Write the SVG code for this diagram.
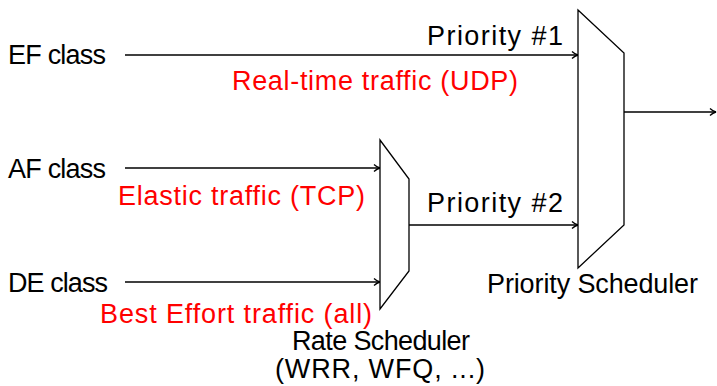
<svg xmlns="http://www.w3.org/2000/svg" width="717" height="386" viewBox="0 0 717 386">
<style>
text{font-family:"Liberation Sans",Arial,sans-serif;font-size:27px;fill:#000}
.red{fill:#ff0000}
.edge{stroke:#000;stroke-width:1.3;fill:none;marker-end:url(#ah)}
.mux{stroke:#000;stroke-width:1.3;fill:#fff}
</style>
<defs>
<marker id="ah" markerWidth="10" markerHeight="10" refX="8" refY="5" orient="auto" markerUnits="userSpaceOnUse">
<path d="M2,1.5 Q5,4.3 8,5 Q5,5.7 2,8.5" fill="none" stroke="#000" stroke-width="1.3"/>
</marker>
</defs>
<g id="connectors">
<line class="edge" x1="125" y1="55" x2="578" y2="55"/>
<line class="edge" x1="125" y1="168" x2="380" y2="168"/>
<line class="edge" x1="125" y1="282" x2="380" y2="282"/>
<line class="edge" x1="409" y1="225" x2="578" y2="225"/>
<line class="edge" x1="624" y1="112" x2="716" y2="112"/>
</g>
<g id="ef"><text x="8" y="64" textLength="98">EF class</text></g>
<g id="af"><text x="8" y="178" textLength="98">AF class</text></g>
<g id="de"><text x="8" y="292" textLength="100">DE class</text></g>
<g id="labels">
<text class="red" x="232" y="90" textLength="286">Real-time traffic (UDP)</text>
<text class="red" x="118" y="205" textLength="247">Elastic traffic (TCP)</text>
<text class="red" x="100" y="323" textLength="272">Best Effort traffic (all)</text>
<text x="427" y="45" textLength="136">Priority #1</text>
<text x="427" y="212" textLength="136">Priority #2</text>
</g>
<g id="rate-scheduler">
<polygon class="mux" points="380,140 409,179 409,271 380,309"/>
<text x="292" y="350" textLength="178">Rate Scheduler</text>
<text x="275" y="378" textLength="210">(WRR, WFQ, ...)</text>
</g>
<g id="priority-scheduler">
<polygon class="mux" points="578,10 624,53 624,225 578,268"/>
<text x="487" y="293" textLength="211">Priority Scheduler</text>
</g>
</svg>
